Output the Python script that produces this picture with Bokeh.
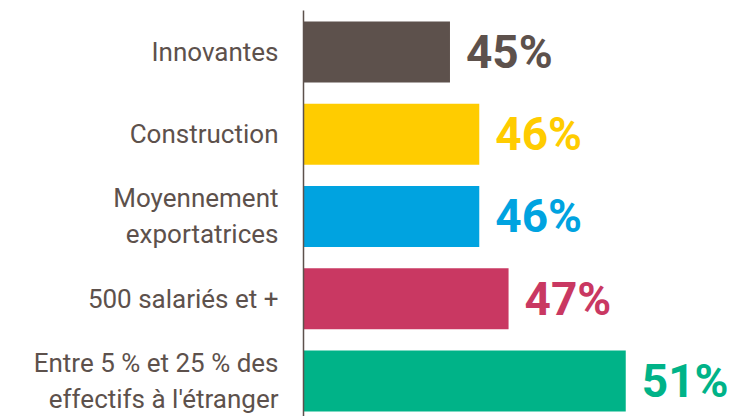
from bokeh.plotting import figure
from bokeh.models import Range1d, FixedTicker, ColumnDataSource
from bokeh.core.properties import value
from bokeh.embed import file_html
from bokeh.resources import INLINE

# ---- data ----
categories = [
    "Innovantes",
    "Construction",
    "Moyennement\nexportatrices",
    "500 salariés et +",
    "Entre 5 % et 25 % des\neffectifs à l'étranger",
]
shares = [45, 46, 46, 47, 51]
share_labels = ["45%", "46%", "46%", "47%", "51%"]
colors = ["#5d514c", "#ffcc00", "#00a3e0", "#c93862", "#00b388"]

x_start = 40

FONT = "Roboto"
TEXT_COLOR = "#5d514c"

n = len(categories)
pos = [n - 1 - i for i in range(n)]

src = ColumnDataSource(dict(pos=pos, share=shares, label=share_labels, color=colors))

p = figure(
    width=731, height=416,
    x_range=Range1d(x_start, 54.61),
    y_range=Range1d(-0.432, 4.5046),
    output_backend="svg", toolbar_location=None,
    x_axis_location=None,
    min_border_left=303, min_border_right=0,
    min_border_top=10, min_border_bottom=0,
)

p.hbar(y="pos", left=x_start, right="share", height=0.74,
       fill_color="color", line_color=None, source=src)

p.text(x="share", y="pos", text="label", text_color="color",
       text_font=value(FONT), text_font_style="bold", text_font_size="46px",
       text_baseline="middle", text_align="left", x_offset=16, source=src)

ax = p.yaxis[0]
ax.ticker = FixedTicker(ticks=pos)
ax.major_label_overrides = {pp: c for pp, c in zip(pos, categories)}
ax.major_tick_line_color = None
ax.minor_tick_line_color = None
ax.major_tick_out = 0
ax.major_tick_in = 0
ax.minor_tick_out = 0
ax.minor_tick_in = 0
ax.axis_line_color = TEXT_COLOR
ax.axis_line_width = 1.5
ax.major_label_text_font = FONT
ax.major_label_text_font_size = "26px"
ax.major_label_text_color = TEXT_COLOR
ax.major_label_standoff = 25
ax.major_label_text_line_height = 1.2

p.xgrid.visible = False
p.ygrid.visible = False
p.outline_line_color = None
p.background_fill_color = "white"
p.border_fill_color = "white"

open("out.html", "w").write(file_html(p, INLINE))
